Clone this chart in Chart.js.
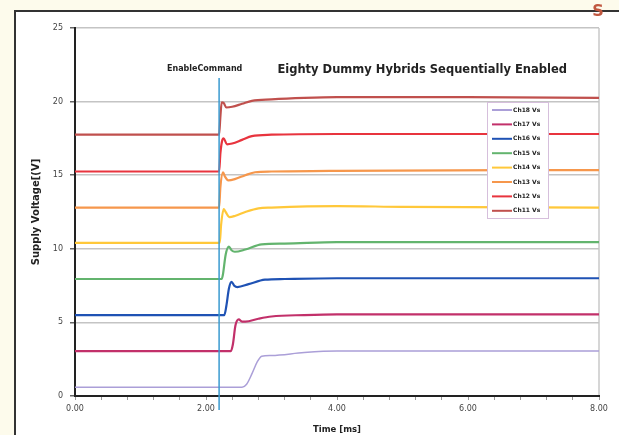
<!DOCTYPE html>
<html>
<head>
<meta charset="utf-8">
<script src="https://cdn.jsdelivr.net/npm/chart.js@4.4.1/dist/chart.umd.min.js"></script>
<style>
  html, body { margin: 0; padding: 0; background: #fdfbec; }
  canvas { display: block; }
</style>
</head>
<body>
<canvas id="chart" width="619" height="435"></canvas>
<script>
// 各チャンネルの電源電圧 [時間 (ms), 電圧 (V)]
const ch18 = [[0, 0.6], [2.55, 0.6], [2.62, 0.8], [2.7, 1.5], [2.78, 2.3], [2.85, 2.7], [3.0, 2.75], [3.5, 2.95], [4.0, 3.05], [5.0, 3.05], [8.0, 3.05]]
const ch17 = [[0, 3.05], [2.38, 3.05], [2.41, 3.5], [2.45, 4.8], [2.5, 5.2], [2.55, 5.05], [2.6, 5.05], [2.8, 5.25], [3.0, 5.4], [3.5, 5.5], [4.0, 5.55], [8.0, 5.55]]
const ch16 = [[0, 5.5], [2.28, 5.5], [2.31, 6.1], [2.35, 7.3], [2.39, 7.75], [2.43, 7.5], [2.48, 7.4], [2.65, 7.6], [2.9, 7.9], [3.2, 7.95], [4.0, 8.0], [8.0, 8.0]]
const ch15 = [[0, 7.95], [2.24, 7.95], [2.26, 8.3], [2.3, 9.6], [2.35, 10.15], [2.39, 9.9], [2.44, 9.8], [2.6, 9.95], [2.85, 10.3], [3.2, 10.35], [4.0, 10.45], [8.0, 10.45]]
const ch14 = [[0, 10.4], [2.21, 10.4], [2.23, 11.6], [2.27, 12.7], [2.3, 12.5], [2.36, 12.15], [2.45, 12.25], [2.6, 12.5], [2.8, 12.75], [3.0, 12.8], [4.0, 12.9], [5.0, 12.85], [8.0, 12.8]]
const ch13 = [[0, 12.8], [2.2, 12.8], [2.22, 14.2], [2.26, 15.2], [2.29, 14.9], [2.34, 14.65], [2.45, 14.75], [2.6, 15.0], [2.75, 15.2], [3.0, 15.25], [4.0, 15.3], [8.0, 15.35]]
const ch12 = [[0, 15.25], [2.2, 15.25], [2.22, 16.5], [2.25, 17.4], [2.27, 17.5], [2.32, 17.1], [2.4, 17.15], [2.55, 17.4], [2.7, 17.65], [3.0, 17.75], [4.0, 17.8], [8.0, 17.8]]
const ch11 = [[0, 17.75], [2.2, 17.75], [2.22, 19.0], [2.24, 19.95], [2.27, 19.9], [2.31, 19.6], [2.4, 19.65], [2.55, 19.85], [2.7, 20.05], [3.0, 20.15], [3.5, 20.25], [4.0, 20.3], [6.0, 20.3], [8.0, 20.25]]

const channelData = [ch18, ch17, ch16, ch15, ch14, ch13, ch12, ch11]
const channelLabels = ['Ch18 Vs', 'Ch17 Vs', 'Ch16 Vs', 'Ch15 Vs', 'Ch14 Vs', 'Ch13 Vs', 'Ch12 Vs', 'Ch11 Vs']
const channelColors = ['#ab9fd8', '#c2306a', '#1f52b4', '#63b46e', '#ffc83a', '#f6974c', '#e8343e', '#c0504d']

const enableTime = 2.2
const enableLabel = 'EnableCommand'
const titleText = 'Eighty Dummy Hybrids Sequentially Enabled'

// 背景と枠
const framePlugin = {
  id: 'frame',
  beforeDraw(chart) {
    const ctx = chart.ctx
    const { right, top, bottom } = chart.chartArea
    ctx.save()
    ctx.fillStyle = '#fdfbec'
    ctx.fillRect(0, 0, chart.width, chart.height)
    ctx.fillStyle = '#ffffff'
    ctx.fillRect(15, 10, chart.width - 15, chart.height - 10)
    ctx.strokeStyle = '#333333'
    ctx.lineWidth = 2
    ctx.beginPath()
    ctx.moveTo(15, chart.height)
    ctx.lineTo(15, 11)
    ctx.lineTo(chart.width, 11)
    ctx.stroke()
    ctx.fillStyle = '#c0573f'
    ctx.font = 'bold 16px "DejaVu Sans"'
    ctx.textAlign = 'center'
    ctx.textBaseline = 'middle'
    ctx.fillText('S', 598, 12)
    // プロット領域の右枠
    ctx.strokeStyle = '#c8c8c8'
    ctx.lineWidth = 1.5
    ctx.beginPath()
    ctx.moveTo(right, top)
    ctx.lineTo(right, bottom)
    ctx.stroke()
    ctx.restore()
  },
  afterDatasetsDraw(chart) {
    const ctx = chart.ctx
    const xs = chart.scales.x
    const ys = chart.scales.y
    const ex = xs.getPixelForValue(enableTime)
    ctx.save()
    ctx.strokeStyle = '#3a9ad0'
    ctx.lineWidth = 1.5
    ctx.beginPath()
    ctx.moveTo(ex, ys.getPixelForValue(21.6))
    ctx.lineTo(ex, chart.chartArea.bottom + 14)
    ctx.stroke()
    ctx.fillStyle = '#222222'
    ctx.textAlign = 'center'
    ctx.textBaseline = 'middle'
    ctx.font = 'bold 8px "DejaVu Sans"'
    ctx.fillText(enableLabel, xs.getPixelForValue(1.98), ys.getPixelForValue(22.2))
    ctx.font = 'bold 11.5px "DejaVu Sans"'
    ctx.fillText(titleText, xs.getPixelForValue(5.3), ys.getPixelForValue(22.15))
    ctx.restore()
  },
  afterDraw(chart) {
    // 凡例
    const ctx = chart.ctx
    const boxX = 487, boxY = 102, boxW = 61, boxH = 116
    ctx.save()
    ctx.fillStyle = '#ffffff'
    ctx.fillRect(boxX, boxY, boxW, boxH)
    ctx.strokeStyle = '#d6bfdc'
    ctx.lineWidth = 1
    ctx.strokeRect(boxX + 0.5, boxY + 0.5, boxW, boxH)
    ctx.font = 'bold 6px "DejaVu Sans"'
    ctx.textBaseline = 'middle'
    ctx.textAlign = 'left'
    chart.data.datasets.forEach((ds, i) => {
      const y = boxY + 8 + i * 14.4
      ctx.strokeStyle = ds.borderColor
      ctx.lineWidth = 2
      ctx.beginPath()
      ctx.moveTo(boxX + 5, y)
      ctx.lineTo(boxX + 25, y)
      ctx.stroke()
      ctx.fillStyle = '#222222'
      ctx.fillText(ds.label, boxX + 26, y)
    })
    ctx.restore()
  }
}

const ctx = document.getElementById('chart').getContext('2d')
new Chart(ctx, {
  type: 'line',
  data: {
    datasets: channelData.map((pts, i) => ({
      label: channelLabels[i],
      data: pts.map(p => ({ x: p[0], y: p[1] })),
      borderColor: channelColors[i],
      backgroundColor: channelColors[i],
      borderWidth: i === 0 ? 1.5 : 2.2,
      pointRadius: 0,
      fill: false,
      cubicInterpolationMode: 'monotone'
    }))
  },
  options: {
    responsive: false,
    animation: false,
    layout: { padding: { left: 15, top: 28, right: 20, bottom: 0 } },
    plugins: {
      legend: { display: false },
      title: { display: false },
      tooltip: { enabled: false }
    },
    scales: {
      x: {
        type: 'linear',
        min: 0,
        max: 8,
        afterFit(scale) { scale.height = 39 },
        ticks: {
          stepSize: 0.4,
          autoSkip: false,
          maxRotation: 0,
          padding: 4,
          color: '#444444',
          font: { family: 'DejaVu Sans', size: 8 },
          callback: v => {
            const r = v / 2
            return Math.abs(r - Math.round(r)) < 1e-6 ? v.toFixed(2) : ''
          }
        },
        grid: {
          drawOnChartArea: false,
          drawTicks: true,
          tickLength: 4,
          tickColor: '#999999'
        },
        border: { color: '#222222', width: 2 },
        title: {
          display: true,
          text: 'Time [ms]',
          color: '#222222',
          font: { family: 'DejaVu Sans', size: 8.5, weight: 'bold' },
          padding: { top: 0, bottom: 0 }
        }
      },
      y: {
        min: 0,
        max: 25,
        afterFit(scale) { scale.width = 60 },
        ticks: {
          stepSize: 5,
          padding: 7,
          color: '#444444',
          font: { family: 'DejaVu Sans', size: 8 }
        },
        grid: {
          color: '#c4c4c4',
          lineWidth: 1.5,
          tickLength: 5,
          tickColor: '#666666'
        },
        border: { color: '#222222', width: 2 },
        title: {
          display: true,
          text: 'Supply Voltage[(V]',
          color: '#222222',
          font: { family: 'DejaVu Sans', size: 10, weight: 'bold' },
          padding: { top: 15, bottom: 0 }
        }
      }
    }
  },
  plugins: [framePlugin]
})
</script>
</body>
</html>
